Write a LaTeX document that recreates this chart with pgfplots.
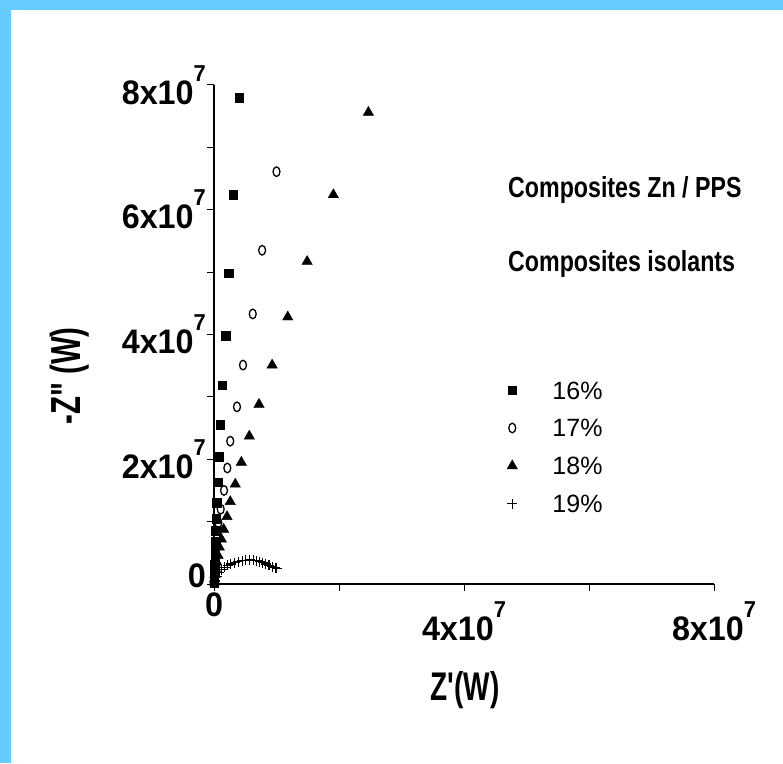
\documentclass[border=0pt]{standalone}
\usepackage{fontspec}
\setmainfont{Liberation Sans}
\newfontfamily\tickfont[FakeStretch=0.95]{Liberation Sans}
\newfontfamily\labfont[FakeStretch=0.7]{Liberation Sans}
\newfontfamily\titfont[FakeStretch=0.8]{Liberation Sans}
\usepackage{pgfplots}
\pgfplotsset{compat=1.18}
\definecolor{bluebg}{RGB}{102,204,255}
\newcommand{\tl}[1]{{\tickfont\bfseries\fontsize{34}{38}\selectfont #1}}
\newcommand{\sep}{\raisebox{23pt}{\fontsize{23}{24}\selectfont 7}}
\pgfplotsset{mylegend/.style={legend image code/.code={\draw[##1] plot coordinates {(0pt,0.5pt)}; \path (-6pt,0pt) (40pt,17pt);}}}
\begin{document}
\begin{tikzpicture}[x=1pt,y=1pt]
\fill[white] (0,0) rectangle (783,763);
\fill[bluebg] (0,0) rectangle (10.5,763);
\fill[bluebg] (0,753) rectangle (783,763);
\begin{axis}[
  at={(214pt,179pt)}, anchor=south west,
  width=500pt, height=499pt, scale only axis,
  xmin=0, xmax=8, ymin=0, ymax=8,
  axis x line*=bottom, axis y line*=left,
  axis line style={line width=1.3pt, -},
  xtick={0,2,4,6,8}, ytick={0,1,2,3,4,5,6,7,8},
  xticklabels={\tl{\raisebox{0pt}[15pt]{0}},,\tl{4x10\sep},,\tl{8x10\sep}},
  yticklabels={\tl{\raisebox{16pt}{0}},,\tl{2x10\sep},,\tl{4x10\sep},,\tl{6x10\sep},,\tl{8x10\sep}},
  tick align=outside, major tick length=7pt,
  tick style={line width=1pt, black},
  xticklabel style={anchor=north, inner sep=0pt, yshift=-10pt},
  yticklabel style={anchor=east, inner sep=0pt, xshift=-1pt},
  clip=false,
  legend style={draw=none, fill=none, at={(axis cs:4.67,3.38)}, anchor=north west,
    inner sep=0pt, row sep=12.2pt,
    nodes={inner sep=0pt, text height=17pt, text depth=0pt},
    font=\fontsize{25}{28}\selectfont},
  legend cell align=left,
]
\addplot[only marks, mark=square*, mark size=4.3pt, black, mylegend] coordinates {
(0.405,7.8)(0.31,6.24)(0.235,4.98)(0.187,3.98)(0.133,3.19)(0.096,2.55)(0.075,2.04)
(0.057,1.63)(0.045,1.30)(0.036,1.05)(0.03,0.85)(0.025,0.68)(0.02,0.54)(0.016,0.42)
(0.013,0.32)(0.01,0.24)(0.008,0.17)(0.006,0.11)(0.004,0.06)(0.002,0.02)};
\addlegendentry{16\%}
\addplot[only marks, mark=o, mark size=4.8pt, black, mark options={xscale=0.72, line width=1.3pt}, mylegend] coordinates {
(1.0,6.61)(0.77,5.35)(0.62,4.33)(0.464,3.51)(0.368,2.84)(0.26,2.29)(0.213,1.86)
(0.16,1.5)(0.107,1.2)(0.07,0.98)(0.05,0.78)(0.035,0.6)(0.025,0.45)(0.015,0.32)
(0.01,0.2)(0.005,0.1)};
\addlegendentry{17\%}
\addplot[only marks, mark=triangle*, mark size=6pt, black, mylegend] coordinates {
(2.47,7.56)(1.91,6.24)(1.49,5.17)(1.18,4.28)(0.93,3.51)(0.72,2.88)(0.565,2.37)
(0.437,1.95)(0.34,1.6)(0.26,1.32)(0.208,1.08)(0.155,0.875)(0.117,0.72)(0.085,0.59)
(0.064,0.46)(0.043,0.35)(0.027,0.235)(0.016,0.15)(0.008,0.08)(0.003,0.03)};
\addlegendentry{18\%}
\addplot[only marks, mark=+, mark size=5pt, black, mark options={line width=1.1pt}, mylegend] coordinates {
(0.02,0.05)(0.05,0.12)(0.08,0.18)(0.12,0.23)(0.17,0.27)(0.22,0.30)(0.27,0.32)
(0.33,0.34)(0.39,0.36)(0.45,0.37)(0.51,0.38)(0.57,0.385)(0.63,0.38)(0.68,0.37)
(0.73,0.355)(0.78,0.34)(0.83,0.32)(0.88,0.30)(0.93,0.28)(0.98,0.26)(1.0,0.25)};
\addlegendentry{19\%}
\end{axis}
\node[anchor=west, inner sep=0pt] at (508,573) {\titfont\bfseries\fontsize{29}{32}\selectfont Composites Zn / PPS};
\node[anchor=west, inner sep=0pt] at (508,499) {\titfont\bfseries\fontsize{29}{32}\selectfont Composites isolants};
\node[inner sep=0pt] at (465,73) {\labfont\bfseries\fontsize{40}{44}\selectfont Z'(W)};
\node[inner sep=0pt, rotate=90] at (70,387) {\labfont\bfseries\fontsize{42}{44}\selectfont -Z" (W)};
\end{tikzpicture}
\end{document}
